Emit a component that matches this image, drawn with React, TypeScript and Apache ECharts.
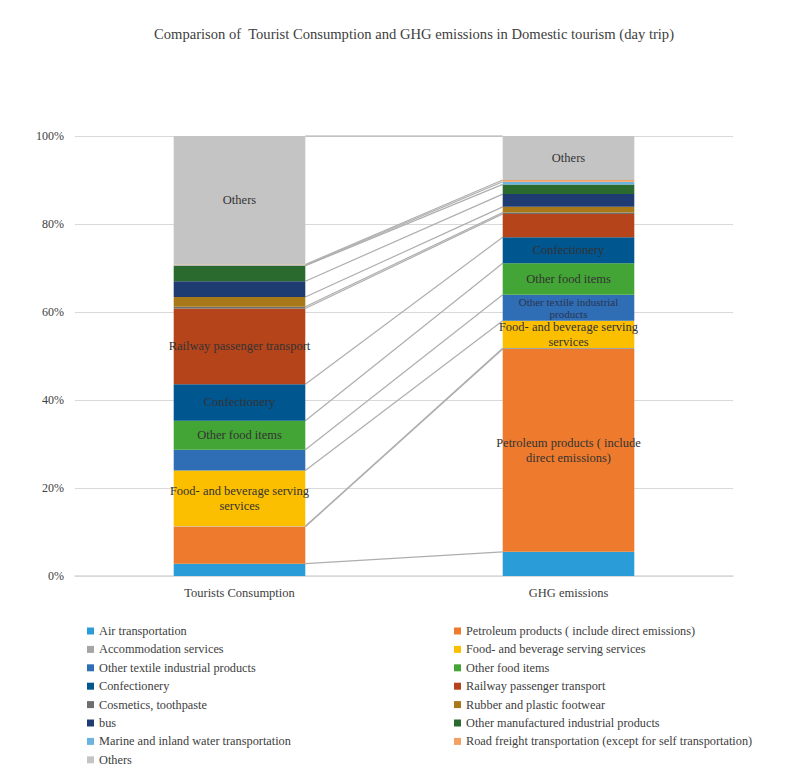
import React, { useEffect, useRef } from "react";
import * as echarts from "echarts";

const categories = ["Tourists Consumption", "GHG emissions"];

const seriesNames = [
  "Air transportation",
  "Petroleum products ( include direct emissions)",
  "Accommodation services",
  "Food- and beverage serving services",
  "Other textile industrial products",
  "Other food items",
  "Confectionery",
  "Railway passenger transport",
  "Cosmetics, toothpaste",
  "Rubber and plastic footwear",
  "bus",
  "Other manufactured industrial products",
  "Marine and inland water transportation",
  "Road freight transportation (except for self transportation)",
  "Others",
];

const touristsValues = [2.8, 8.4, 0.1, 12.7, 4.7, 6.6, 8.3, 17.2, 0.4, 2.2, 3.6, 3.5, 0.1, 0.2, 29.2];
const ghgValues = [5.5, 46.1, 0.2, 6.2, 5.9, 7.2, 5.9, 5.3, 0.3, 1.3, 2.9, 2.2, 0.6, 0.4, 10.0];

const touristsLabels = [
  "", "", "", "Food- and beverage serving\nservices", "", "Other food items", "Confectionery",
  "Railway passenger transport", "", "", "", "", "", "", "Others",
];
const ghgLabels = [
  "", "Petroleum products ( include\ndirect emissions)", "", "Food- and beverage serving\nservices",
  "Other textile industrial\nproducts", "Other food items", "Confectionery", "", "", "", "", "", "", "", "Others",
];

const yTicks = [0, 20, 40, 60, 80, 100];

const colors = [
  "#2A9CD8", "#EE7B2D", "#A5A5A5", "#FCBF00", "#2F6DB5", "#43A535", "#00568F", "#B5441A",
  "#6E6E6E", "#A87819", "#1F3C72", "#2B6A2E", "#6CB4E0", "#F4A062", "#C4C4C4",
];

const FONT = "'Liberation Serif', 'Times New Roman', serif";

function cumulative(vals: number[]): number[] {
  const out: number[] = [];
  let s = 0;
  for (const v of vals) {
    s += v;
    out.push(s);
  }
  return out;
}

export default function App() {
  const ref = useRef<HTMLDivElement>(null);
  useEffect(() => {
    if (!ref.current) return;
    const chart = echarts.init(ref.current, undefined, { renderer: "svg" });
    const cumL = cumulative(touristsValues);
    const cumR = cumulative(ghgValues);

    const barSeries: any[] = seriesNames.map((name, i) => ({
      name,
      type: "bar",
      stack: "total",
      barWidth: "40%",
      itemStyle: { color: colors[i] },
      emphasis: { disabled: true },
      data: [
        {
          value: touristsValues[i],
          label: {
            show: touristsLabels[i] !== "",
            formatter: touristsLabels[i],
          },
        },
        {
          value: ghgValues[i],
          label: {
            show: ghgLabels[i] !== "",
            formatter: ghgLabels[i],
            fontSize: i === 4 ? 11 : 12.5,
            lineHeight: i === 4 ? 12.5 : 15,
            color: i === 4 ? "#2B3550" : "#333333",
          },
        },
      ],
      label: {
        position: "inside",
        fontFamily: FONT,
        fontSize: 12.5,
        lineHeight: 15,
        color: "#333333",
        overflow: "none",
      },
    }));

    const seriesLines = {
      type: "custom",
      name: "seriesLines",
      silent: true,
      z: 1,
      encode: { x: 0, y: 1 },
      data: cumL.map((c, i) => [0, c, cumR[i]]),
      renderItem: (params: any, api: any) => {
        const l = api.coord([0, api.value(1)]);
        const r = api.coord([1, api.value(2)]);
        const band = api.size([1, 0])[0];
        const hw = band * 0.2;
        return {
          type: "line",
          shape: { x1: l[0] + hw, y1: l[1], x2: r[0] - hw, y2: r[1] },
          style: { stroke: "#AEAEAE", lineWidth: 1.2 },
        };
      },
    };

    const leftLegend = seriesNames.filter((_, i) => i % 2 === 0);
    const rightLegend = seriesNames.filter((_, i) => i % 2 === 1);
    const legendCommon = {
      orient: "vertical",
      icon: "rect",
      itemWidth: 7,
      itemHeight: 7,
      selectedMode: false,
      textStyle: { fontFamily: FONT, fontSize: 12.3, lineHeight: 12, color: "#404040" },
    };

    chart.setOption({
      animation: false,
      backgroundColor: "#FFFFFF",
      title: {
        text: "Comparison of  Tourist Consumption and GHG emissions in Domestic tourism (day trip)",
        left: 149,
        top: 21,
        textStyle: { fontFamily: FONT, fontSize: 14.6, fontWeight: "normal", color: "#404040" },
      },
      legend: [
        { ...legendCommon, left: 82, top: 620, itemGap: 6.4, data: leftLegend },
        { ...legendCommon, left: 449, top: 620, itemGap: 6.4, data: rightLegend },
      ],
      grid: { left: 75, right: 77, top: 136, bottom: 204 },
      xAxis: {
        type: "category",
        data: categories,
        axisTick: { show: false },
        axisLine: { lineStyle: { color: "#D9D9D9", width: 1.5 } },
        axisLabel: { fontFamily: FONT, fontSize: 12.5, color: "#404040", margin: 10 },
      },
      yAxis: {
        type: "value",
        min: yTicks[0],
        max: yTicks[yTicks.length - 1],
        interval: 20,
        axisLine: { show: false },
        axisTick: { show: false },
        splitLine: { lineStyle: { color: "#D9D9D9", width: 1 } },
        axisLabel: { fontFamily: FONT, fontSize: 12, color: "#404040", margin: 11, formatter: "{value}%" },
      },
      series: [...barSeries, seriesLines],
    });
    return () => chart.dispose();
  }, []);
  return (
    <div
      ref={ref}
      style={{ position: "fixed", left: 0, top: 0, width: 810, height: 780, background: "#fff" }}
    />
  );
}
